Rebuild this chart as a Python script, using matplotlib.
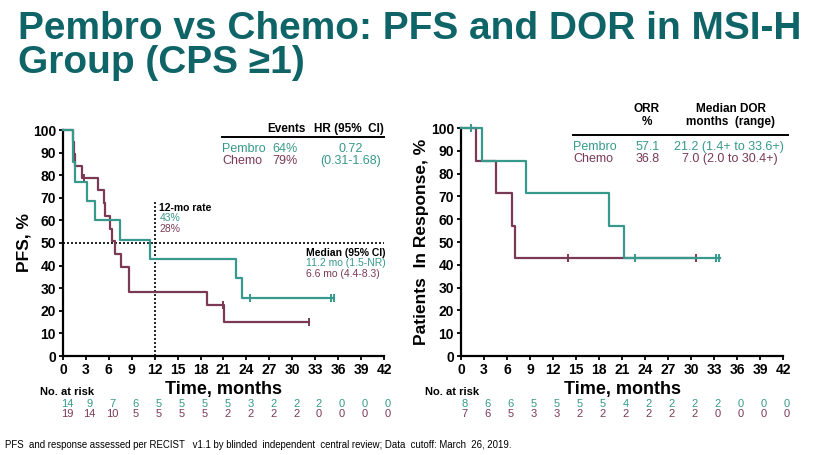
import numpy as np
import matplotlib.pyplot as plt
from matplotlib.transforms import blended_transform_factory

plt.rcParams['font.family'] = ['Liberation Sans Narrow', 'Liberation Sans', 'DejaVu Sans']

TEAL = '#36998c'
PLUM = '#7a3a56'
TITLE_C = '#0f6468'

# ---- PFS data ----
pfs_pem_t = [0, 1.3, 1.6, 3.2, 4.2, 7.4, 11.4, 22.6, 23.4, 35.4]
pfs_pem_v = [100, 85.7, 77.1, 68.6, 60.0, 51.4, 42.9, 34.3, 25.7, 25.7]
pfs_pem_cens_t = [24.5, 35.1, 35.4]
pfs_pem_cens_v = [25.7, 25.7, 25.7]

pfs_che_t = [0, 1.25, 1.45, 1.6, 2.5, 4.6, 5.3, 5.45, 6.1, 6.4, 6.8, 7.6, 8.6, 18.9, 21.1, 32.2]
pfs_che_v = [100, 94.7, 89.5, 84.2, 78.9, 73.3, 67.7, 62.0, 56.4, 50.8, 45.1, 39.5, 28.2, 22.6, 15.0, 15.0]
pfs_che_cens_t = [2.7, 21.0, 32.2]
pfs_che_cens_v = [78.9, 22.6, 15.0]

# ---- DOR data ----
dor_pem_t = [0, 2.8, 8.5, 19.3, 21.2, 33.8]
dor_pem_v = [100, 85.7, 71.4, 57.1, 42.9, 42.9]
dor_pem_cens_t = [1.35, 22.7, 33.3, 33.7]
dor_pem_cens_v = [100, 42.9, 42.9, 42.9]

dor_che_t = [0, 1.9, 4.6, 6.7, 7.0, 30.4]
dor_che_v = [100, 85.7, 71.4, 57.1, 42.9, 42.9]
dor_che_cens_t = [13.9, 30.6]
dor_che_cens_v = [42.9, 42.9]

months = list(range(0, 43, 3))
pfs_risk_pem = [14, 9, 7, 6, 5, 5, 5, 5, 3, 2, 2, 2, 0, 0, 0]
pfs_risk_che = [19, 14, 10, 5, 5, 5, 5, 2, 2, 2, 2, 0, 0, 0, 0]
dor_risk_pem = [8, 6, 6, 5, 5, 5, 5, 4, 2, 2, 2, 2, 0, 0, 0]
dor_risk_che = [7, 6, 5, 3, 3, 2, 2, 2, 2, 2, 2, 0, 0, 0, 0]

W, H = 820, 455
fig = plt.figure(figsize=(W / 100, H / 100), dpi=100)
fig.patch.set_facecolor('white')


def px_axes(x0, x1, ytop, ybot):
    return fig.add_axes([x0 / W, 1 - ybot / H, (x1 - x0) / W, (ybot - ytop) / H])


def style(ax, ylabel):
    ax.set_xlim(0, 42)
    ax.set_ylim(0, 100)
    ax.set_xticks(months)
    ax.set_yticks(range(0, 101, 10))
    for s in ['top', 'right']:
        ax.spines[s].set_visible(False)
    for s in ['left', 'bottom']:
        ax.spines[s].set_linewidth(1.6)
    ax.tick_params(length=3, width=1.3, labelsize=10, pad=2)
    for lab in ax.get_xticklabels() + ax.get_yticklabels():
        lab.set_fontweight('bold')
    ax.set_ylabel(ylabel, fontsize=12.5, fontweight='bold', labelpad=1)
    ax.set_xlabel('Time, months', fontsize=13, fontweight='bold', labelpad=3)


def km(ax, t, v, ct, cv, color):
    ax.step(t, v, where='post', color=color, lw=1.6, clip_on=False, zorder=3)
    ax.plot(ct, cv, ls='none', marker='|', ms=6, mew=1.4, color=color,
            clip_on=False, zorder=3)


def at_risk(ax, pem, che, lab_x):
    tr = blended_transform_factory(ax.transData, fig.transFigure)
    for m, a, b in zip(months, pem, che):
        ax.text(m + 0.5, 1 - 404 / H, str(a), transform=tr, ha='center', va='center',
                fontsize=8, color=TEAL)
        ax.text(m + 0.5, 1 - 414 / H, str(b), transform=tr, ha='center', va='center',
                fontsize=8, color=PLUM)
    ax.text(lab_x, 1 - 392 / H, 'No. at risk', transform=tr, ha='left', va='center',
            fontsize=8, fontweight='bold')


# ---------------- left: PFS ----------------
ax1 = px_axes(63, 384, 130, 356)
style(ax1, 'PFS, %')
km(ax1, pfs_che_t, pfs_che_v, pfs_che_cens_t, pfs_che_cens_v, PLUM)
km(ax1, pfs_pem_t, pfs_pem_v, pfs_pem_cens_t, pfs_pem_cens_v, TEAL)
ax1.plot([0, 42], [50, 50], ls=(0, (1.2, 1.2)), color='black', lw=1.2, clip_on=False, zorder=2)
ax1.plot([12, 12], [0, 68], ls=(0, (1.2, 1.2)), color='black', lw=1.2, zorder=2)
ax1.text(12.6, 65.6, '12-mo rate', fontsize=7.5, fontweight='bold', va='center')
ax1.text(12.6, 61.0, '43%', fontsize=7.5, color=TEAL, va='center')
ax1.text(12.6, 56.2, '28%', fontsize=7.5, color=PLUM, va='center')
ax1.text(31.8, 45.7, 'Median (95% CI)', fontsize=7.5, fontweight='bold', va='center')
ax1.text(31.8, 41.0, '11.2 mo (1.5-NR)', fontsize=7.5, color=TEAL, va='center')
ax1.text(31.8, 36.2, '6.6 mo (4.4-8.3)', fontsize=7.5, color=PLUM, va='center')
# table
ax1.text(29.2, 100.6, 'Events', fontsize=8.5, fontweight='bold', ha='center', va='center',
         clip_on=False)
ax1.text(37.4, 100.6, 'HR (95%  CI)', fontsize=8.5, fontweight='bold', ha='center', va='center',
         clip_on=False)
ax1.plot([20.8, 42], [96.9, 96.9], color='black', lw=1.4, clip_on=False)
ax1.text(20.8, 91.6, 'Pembro', fontsize=9, color=TEAL, va='center')
ax1.text(20.8, 86.5, 'Chemo', fontsize=9, color=PLUM, va='center')
ax1.text(29.1, 91.6, '64%', fontsize=9, color=TEAL, va='center', ha='center')
ax1.text(29.1, 86.5, '79%', fontsize=9, color=PLUM, va='center', ha='center')
ax1.text(37.6, 91.6, '0.72', fontsize=9, color=TEAL, va='center', ha='center')
ax1.text(37.6, 86.5, '(0.31-1.68)', fontsize=9, color=TEAL, va='center', ha='center')
at_risk(ax1, pfs_risk_pem, pfs_risk_che, -3.0)

# ---------------- right: DOR ----------------
ax2 = px_axes(461, 783, 128, 356)
style(ax2, 'Patients  In Response, %')
km(ax2, dor_che_t, dor_che_v, dor_che_cens_t, dor_che_cens_v, PLUM)
km(ax2, dor_pem_t, dor_pem_v, dor_pem_cens_t, dor_pem_cens_v, TEAL)
ax2.text(24.2, 105.6, 'ORR\n%', fontsize=8.5, fontweight='bold', ha='center', va='center',
         linespacing=1.15)
ax2.text(35.2, 105.6, 'Median DOR\nmonths  (range)', fontsize=8.5, fontweight='bold', ha='center',
         va='center', linespacing=1.15)
ax2.plot([14.6, 42.6], [96.9, 96.9], color='black', lw=1.4, clip_on=False)
ax2.text(14.6, 91.7, 'Pembro', fontsize=9, color=TEAL, va='center')
ax2.text(14.6, 86.3, 'Chemo', fontsize=9, color=PLUM, va='center')
ax2.text(24.3, 91.7, '57.1', fontsize=9, color=TEAL, va='center', ha='center')
ax2.text(24.3, 86.3, '36.8', fontsize=9, color=PLUM, va='center', ha='center')
ax2.text(35.0, 91.7, '21.2 (1.4+ to 33.6+)', fontsize=9, color=TEAL, va='center', ha='center')
ax2.text(35.0, 86.3, '7.0 (2.0 to 30.4+)', fontsize=9, color=PLUM, va='center', ha='center')
at_risk(ax2, dor_risk_pem, dor_risk_che, -4.7)

# ---------------- title & footnote ----------------
fig.text(18 / W, 1 - 29 / H, 'Pembro vs Chemo: PFS and DOR in MSI-H', fontsize=28,
         fontweight='bold', color=TITLE_C, va='center', ha='left')
fig.text(18 / W, 1 - 63 / H, 'Group (CPS \u22651)', fontsize=28,
         fontweight='bold', color=TITLE_C, va='center', ha='left')
fig.text(5 / W, 1 - 445 / H,
         'PFS  and response assessed per RECIST   v1.1 by blinded  independent  central review; Data  cutoff: March  26, 2019.',
         fontsize=6.9, va='center', ha='left', family=['Liberation Sans', 'DejaVu Sans'])

fig.savefig('out.png', dpi=100, facecolor='white')
